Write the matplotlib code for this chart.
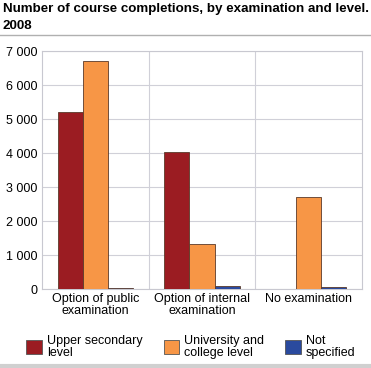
import numpy as np
import matplotlib.pyplot as plt
from matplotlib.patches import Patch
from matplotlib.lines import Line2D

## Data
categories = ["Option of public\nexamination", "Option of internal\nexamination", "No examination"]
upper_secondary = [5200, 4020, 0]
university = [6720, 1320, 2700]
not_specified = [30, 100, 60]
series_names = ["Upper secondary\nlevel", "University and\ncollege level", "Not\nspecified"]
colors = ["#9b1c22", "#f79646", "#2a4a9e"]
yticks = [0, 1000, 2000, 3000, 4000, 5000, 6000, 7000]

plt.rcParams['font.family'] = ['Liberation Sans', 'DejaVu Sans']

fig = plt.figure(figsize=(3.71, 3.68), dpi=100)
ax = fig.add_axes([42/371, 1 - 289/368, 320/371, 238/368])

x = np.arange(len(categories))
w = 0.235
for i, vals in enumerate([upper_secondary, university, not_specified]):
    ax.bar(x + (i - 1) * w, vals, w, color=colors[i], edgecolor="#5a3a2a", linewidth=0.6, zorder=3)

ax.set_xlim(-0.5, 2.5)
ax.set_ylim(0, 7000)
ax.set_yticks(yticks)
ax.set_yticklabels([f"{v:,}".replace(",", " ") for v in yticks], fontsize=9)
ax.set_xticks(x)
ax.set_xticklabels(categories, fontsize=9, linespacing=1.0)
ax.tick_params(length=0, pad=3)
ax.grid(axis="y", color="#d0d0d8", linewidth=0.8, zorder=0)
for b in [0.5, 1.5]:
    ax.axvline(b, color="#d0d0d8", linewidth=0.8, zorder=0)
for s in ax.spines.values():
    s.set_color("#c8c8d0")
    s.set_linewidth(0.8)

fig.text(0.008, 0.992, "Number of course completions, by examination and level.",
         fontsize=9.6, fontweight="bold", va="top", ha="left")
fig.text(0.008, 0.992 - 17/368, "2008",
         fontsize=9.6, fontweight="bold", va="top", ha="left")
fig.add_artist(Line2D([0, 1], [1 - 35/368, 1 - 35/368], color="#b0b0b0", linewidth=1))
fig.add_artist(Line2D([0, 1], [1 - 366/368, 1 - 366/368], color="#d0d0d0", linewidth=3))

handles = [Patch(facecolor=c, edgecolor="#555555", linewidth=0.6) for c in colors]
fig.legend(handles, series_names, loc="upper left", bbox_to_anchor=(26/371, 1 - 335/368), ncol=3,
           frameon=False, fontsize=9, handlelength=1.25, handleheight=1.25, borderpad=0,
           borderaxespad=0, columnspacing=1.7, handletextpad=0.4, labelspacing=0)
for t in fig.legends[0].get_texts():
    t.set_linespacing(0.95)

fig.savefig("out.png", dpi=100)
